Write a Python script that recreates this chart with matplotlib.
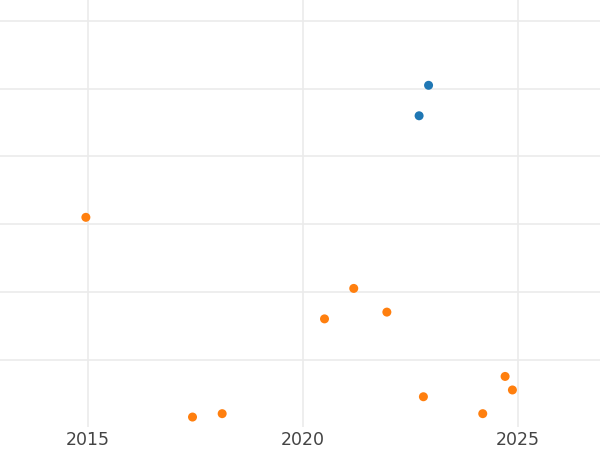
import matplotlib
matplotlib.use("Agg")
import matplotlib.pyplot as plt

# blue group
blue_year = [2022.92, 2022.70]
blue_val = [50.5, 46.0]

# orange group
orange_year = [2014.95, 2017.43, 2018.12, 2020.50, 2021.18, 2021.95,
               2022.80, 2024.18, 2024.70, 2024.87]
orange_val = [31.0, 1.5, 2.0, 16.0, 20.5, 17.0,
              4.5, 2.0, 7.5, 5.5]

x_ticks = [2015, 2020, 2025]
y_grid = [10, 20, 30, 40, 50, 60]

fig = plt.figure(figsize=(6, 4.5), dpi=100)
ax = fig.add_axes([0, 23 / 450, 1, 427 / 450])

ax.scatter(orange_year, orange_val, s=42, color="#ff7f0e", edgecolors="none", zorder=3)
ax.scatter(blue_year, blue_val, s=42, color="#1f77b4", edgecolors="none", zorder=3)

ax.set_xlim(2012.953, 2026.907)
ax.set_ylim(0.03, 63.1)
ax.set_xticks(x_ticks)
ax.set_xticklabels([str(t) for t in x_ticks])
ax.set_yticks(y_grid)
ax.set_yticklabels([])
ax.tick_params(axis="both", length=0, pad=3)
ax.tick_params(axis="x", labelsize=12.5, labelcolor="#444444")
ax.grid(True, color="#ebebeb", linewidth=1.2)
ax.set_axisbelow(True)
for s in ax.spines.values():
    s.set_visible(False)

fig.savefig("out.png", dpi=100)
